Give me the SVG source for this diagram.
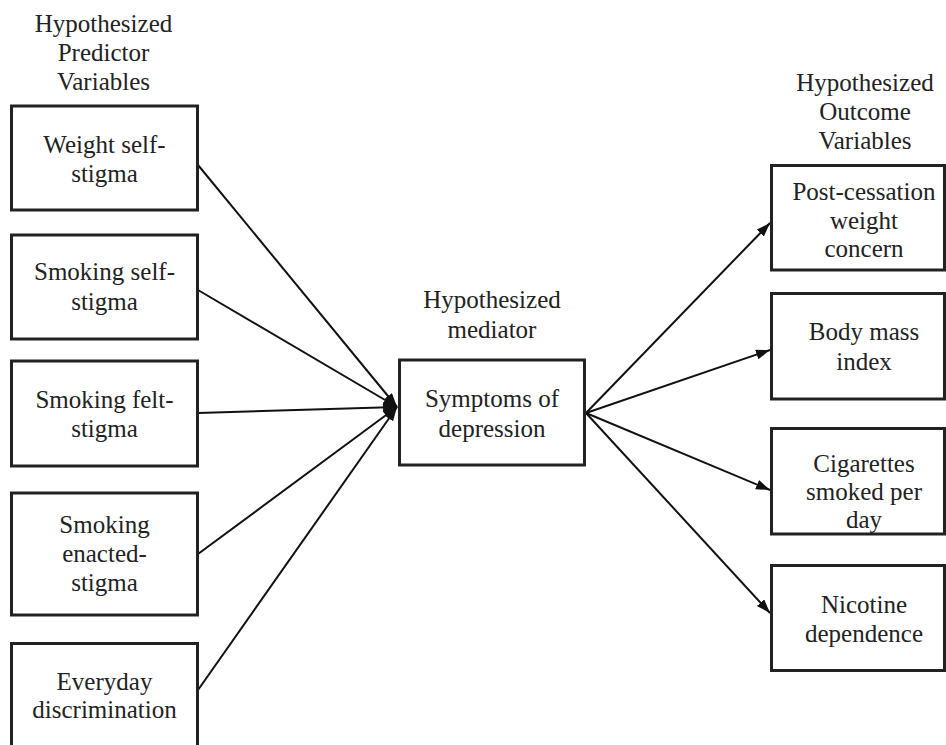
<svg xmlns="http://www.w3.org/2000/svg" width="946" height="745" viewBox="0 0 946 745">
<style>
  .box { fill: #ffffff; stroke: #222222; stroke-width: 3; }
  .lbl { font-family: 'Liberation Serif', 'Times New Roman', Times, 'Noto Serif', 'DejaVu Serif', serif; font-size: 25px; fill: #222222; text-anchor: middle; }
  .edge { stroke: #111111; stroke-width: 2; fill: none; marker-end: url(#arrow); }
</style>
<defs>
  <marker id="arrow" markerUnits="userSpaceOnUse" markerWidth="15" markerHeight="11" refX="14" refY="5" orient="auto">
    <path d="M0,0 L14,5 L0,10 z" fill="#111111"/>
  </marker>
</defs>
<rect width="946" height="745" fill="#ffffff"/>

<g id="headers">
  <text class="lbl" x="103.5" y="32">Hypothesized</text>
  <text class="lbl" x="103.5" y="61">Predictor</text>
  <text class="lbl" x="103.5" y="90">Variables</text>
  <text class="lbl" x="492" y="308">Hypothesized</text>
  <text class="lbl" x="492" y="338">mediator</text>
  <text class="lbl" x="865" y="91">Hypothesized</text>
  <text class="lbl" x="865" y="120">Outcome</text>
  <text class="lbl" x="865" y="149">Variables</text>
</g>

<g id="connectors">
  <line class="edge" x1="198" y1="165" x2="397" y2="407"/>
  <line class="edge" x1="198" y1="290" x2="397" y2="407"/>
  <line class="edge" x1="198" y1="413" x2="397" y2="407"/>
  <line class="edge" x1="198" y1="554" x2="397" y2="407"/>
  <line class="edge" x1="198" y1="690" x2="397" y2="407"/>
  <line class="edge" x1="586" y1="413" x2="770" y2="223"/>
  <line class="edge" x1="586" y1="413" x2="770" y2="350"/>
  <line class="edge" x1="586" y1="413" x2="770" y2="490"/>
  <line class="edge" x1="586" y1="413" x2="770" y2="613"/>
</g>

<g id="weight-self-stigma">
  <rect class="box" x="11.5" y="106" width="186" height="104"/>
  <text class="lbl" x="104.5" y="153">Weight self-</text>
  <text class="lbl" x="104.5" y="182">stigma</text>
</g>
<g id="smoking-self-stigma">
  <rect class="box" x="11.5" y="235" width="186" height="104"/>
  <text class="lbl" x="104.5" y="280">Smoking self-</text>
  <text class="lbl" x="104.5" y="310">stigma</text>
</g>
<g id="smoking-felt-stigma">
  <rect class="box" x="11.5" y="361" width="186" height="105"/>
  <text class="lbl" x="104.5" y="408">Smoking felt-</text>
  <text class="lbl" x="104.5" y="437">stigma</text>
</g>
<g id="smoking-enacted-stigma">
  <rect class="box" x="11.5" y="493" width="186" height="122"/>
  <text class="lbl" x="104.5" y="533">Smoking</text>
  <text class="lbl" x="104.5" y="562">enacted-</text>
  <text class="lbl" x="104.5" y="591">stigma</text>
</g>
<g id="everyday-discrimination">
  <rect class="box" x="11.5" y="643.5" width="186" height="120"/>
  <text class="lbl" x="104.5" y="690">Everyday</text>
  <text class="lbl" x="104.5" y="718">discrimination</text>
</g>

<g id="symptoms-of-depression">
  <rect class="box" x="399.5" y="360" width="185" height="105"/>
  <text class="lbl" x="492" y="407">Symptoms of</text>
  <text class="lbl" x="492" y="437">depression</text>
</g>

<g id="post-cessation-weight-concern">
  <rect class="box" x="771.5" y="165.5" width="173" height="104.5"/>
  <text class="lbl" x="864" y="200">Post-cessation</text>
  <text class="lbl" x="864" y="228.5">weight</text>
  <text class="lbl" x="864" y="257">concern</text>
</g>
<g id="body-mass-index">
  <rect class="box" x="771.5" y="293.5" width="173" height="105.5"/>
  <text class="lbl" x="864" y="340">Body mass</text>
  <text class="lbl" x="864" y="370">index</text>
</g>
<g id="cigarettes-smoked-per-day">
  <rect class="box" x="771.5" y="428.5" width="173" height="105.5"/>
  <text class="lbl" x="864" y="472">Cigarettes</text>
  <text class="lbl" x="864" y="500">smoked per</text>
  <text class="lbl" x="864" y="528">day</text>
</g>
<g id="nicotine-dependence">
  <rect class="box" x="771.5" y="565.5" width="173" height="105"/>
  <text class="lbl" x="864" y="613">Nicotine</text>
  <text class="lbl" x="864" y="642">dependence</text>
</g>
</svg>
